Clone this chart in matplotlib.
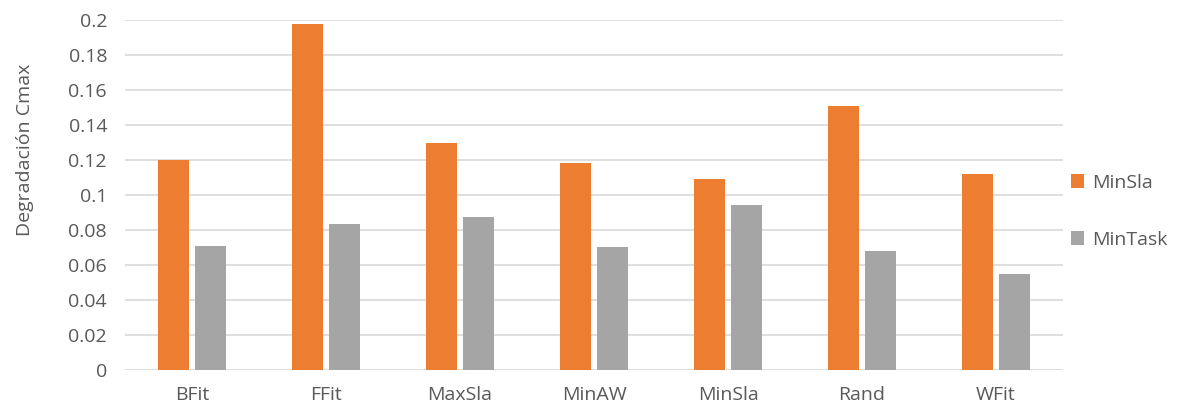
import matplotlib
matplotlib.use("Agg")
import matplotlib.pyplot as plt
import numpy as np

plt.rcParams["font.family"] = ["Open Sans", "DejaVu Sans"]

categories = ["BFit", "FFit", "MaxSla", "MinAW", "MinSla", "Rand", "WFit"]
min_sla = [0.1200, 0.1977, 0.1298, 0.1182, 0.1090, 0.1511, 0.1123]
min_task = [0.0712, 0.0837, 0.0877, 0.0706, 0.0944, 0.0683, 0.0550]

ORANGE = "#ED7D31"
GRAY = "#A5A5A5"
TEXT = "#595959"

fig = plt.figure(figsize=(11.82, 4.12), dpi=100)
ax = fig.add_axes([0.1058, 0.1012, 0.7935, 0.8503])

x = np.arange(len(categories))
w = 0.23
off = 0.138
b1 = ax.bar(x - off, min_sla, w, color=ORANGE, label="MinSla", zorder=3)
b2 = ax.bar(x + off, min_task, w, color=GRAY, label="MinTask", zorder=3)

ax.set_xlim(-0.5, len(categories) - 0.5)
ax.set_ylim(0, 0.2)
ax.set_yticks(np.arange(0, 0.201, 0.02))
ax.set_yticklabels(["0"] + [f"{v:g}" for v in np.arange(0.02, 0.201, 0.02)])
ax.set_xticks(x)
ax.set_xticklabels(categories)
ax.tick_params(length=0, labelsize=14, colors=TEXT)
ax.tick_params(axis="y", pad=13)
ax.tick_params(axis="x", pad=11)
ax.grid(axis="y", color="#D9D9D9", lw=1.2, zorder=0)
for s in ax.spines.values():
    s.set_visible(False)

ax.set_ylabel("Degradación Cmax", fontsize=14, color=TEXT)
ax.yaxis.set_label_coords(-0.097, 0.63)

fig.legend(handles=[b1, b2], loc="upper left", bbox_to_anchor=(0.891, 0.62),
           frameon=False, fontsize=14, labelcolor=TEXT, handlelength=0.7,
           handleheight=0.7, handletextpad=0.4, labelspacing=2.0)

fig.savefig("out.png", dpi=100)
